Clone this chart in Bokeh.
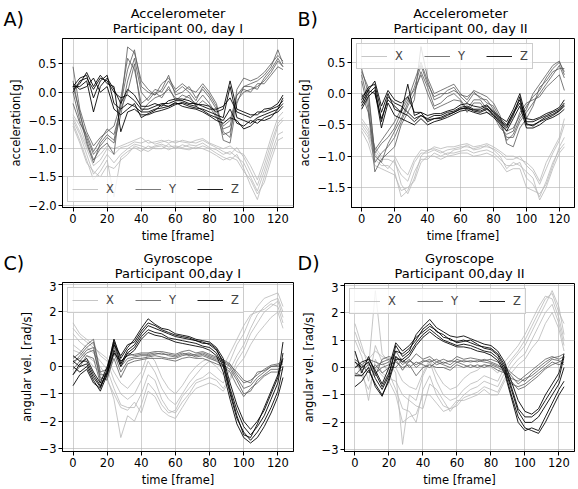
from bokeh.plotting import figure
from bokeh.models import Range1d, FixedTicker, Legend, LegendItem, CustomJSTickFormatter
from bokeh.layouts import column, row
from bokeh.core.properties import value
from bokeh.embed import file_html
from bokeh.resources import INLINE

# ---------------- data ----------------
FRAMES = [0, 4, 8, 12, 16, 20, 24, 28, 32, 36, 40, 44, 48, 52, 56, 60,
          64, 68, 72, 76, 80, 84, 88, 92, 96, 100, 104, 108, 112, 116, 120, 123]
X_TICKS = [0, 20, 40, 60, 80, 100, 120]
ACC_TICKS_A = [-2.0, -1.5, -1.0, -0.5, 0.0, 0.5]
ACC_TICKS_B = [-1.5, -1.0, -0.5, 0.0, 0.5]
GYR_TICKS = [-3, -2, -1, 0, 1, 2, 3]
CHANNELS = ["X", "Y", "Z"]

ACC1_X = [
    [-0.40,-0.60,-0.95,-1.20,-1.10,-0.95,-1.00,-0.95,-0.90,-0.85,-0.80,-0.90,-0.88,-0.85,-0.90,-0.86,-0.88,-0.90,-0.85,-0.82,-0.90,-0.95,-1.00,-0.95,-1.05,-1.10,-1.30,-1.55,-1.20,-0.80,-0.45,-0.35],
    [-0.50,-0.75,-1.10,-1.45,-1.30,-1.10,-1.25,-1.10,-1.00,-0.92,-0.95,-1.00,-0.95,-0.92,-0.97,-0.95,-0.98,-0.93,-0.95,-0.90,-0.98,-1.02,-1.10,-1.05,-1.15,-1.25,-1.50,-1.75,-1.40,-1.00,-0.60,-0.50],
    [-0.55,-0.85,-1.20,-1.55,-1.40,-1.20,-1.85,-1.15,-1.05,-0.98,-1.05,-0.95,-1.00,-1.00,-0.92,-1.00,-0.93,-0.97,-1.00,-0.95,-1.00,-1.08,-1.15,-1.20,-1.10,-1.35,-1.65,-1.90,-1.50,-1.10,-0.75,-0.70],
    [-0.45,-0.70,-1.00,-1.30,-1.20,-1.00,-1.10,-0.98,-0.95,-0.88,-0.90,-0.85,-0.92,-0.88,-0.85,-0.90,-0.85,-0.88,-0.90,-0.85,-0.92,-0.98,-1.05,-1.10,-0.98,-1.15,-1.40,-1.65,-1.30,-0.90,-0.55,-0.45],
    [-0.60,-0.90,-1.25,-1.40,-1.50,-1.30,-1.35,-1.20,-1.10,-0.95,-1.00,-1.05,-0.97,-0.95,-1.02,-0.97,-1.00,-1.02,-0.97,-1.00,-1.05,-1.12,-1.20,-1.15,-1.20,-1.40,-1.55,-1.80,-1.60,-1.20,-0.85,-0.80],
]
ACC1_Y = [
    [0.45,-0.30,-0.70,-0.95,-0.80,-0.70,-0.60,-0.20,0.40,0.75,0.10,0.00,-0.05,0.05,0.30,-0.05,0.00,0.10,-0.10,0.05,-0.10,-0.30,-0.60,-0.50,-0.05,0.10,0.15,0.20,0.30,0.45,0.75,0.50],
    [0.20,-0.40,-0.80,-1.10,-0.95,-0.80,-0.90,-0.40,0.20,0.60,0.00,-0.15,0.00,-0.10,0.10,-0.15,-0.05,-0.10,-0.20,-0.05,-0.20,-0.40,-0.75,-0.70,-0.15,0.00,0.05,0.10,0.20,0.35,0.55,0.45],
    [0.00,-0.50,-0.85,-1.20,-1.00,-0.90,-1.10,-0.10,0.60,0.40,-0.20,-0.10,0.05,0.00,0.20,0.00,0.10,0.00,-0.15,0.10,-0.05,-0.25,-0.85,-0.90,-0.20,0.10,0.10,0.05,0.25,0.40,0.60,0.45],
    [-0.20,-0.55,-0.75,-1.05,-0.85,-0.65,-0.75,-0.30,0.00,0.50,-0.35,-0.20,-0.10,-0.05,0.05,-0.10,-0.15,-0.05,-0.25,-0.15,-0.25,-0.45,-0.65,-0.60,-0.05,0.05,0.00,0.15,0.15,0.30,0.45,0.40],
    [0.10,-0.35,-0.90,-1.25,-0.90,-0.75,-0.85,-0.25,0.80,0.70,0.20,0.05,-0.05,0.15,0.25,0.05,0.15,0.05,0.00,0.15,0.00,-0.20,-0.70,-0.80,0.05,0.25,0.20,0.25,0.35,0.50,0.65,0.55],
]
ACC1_Z = [
    [0.00,0.20,0.25,0.05,0.25,0.20,0.00,-0.10,-0.05,-0.15,-0.30,-0.30,-0.25,-0.20,-0.20,-0.15,-0.15,-0.20,-0.20,-0.25,-0.30,-0.30,-0.25,-0.10,-0.35,-0.40,-0.45,-0.35,-0.35,-0.30,-0.25,-0.15],
    [0.10,0.25,0.30,-0.10,0.20,0.30,-0.20,-0.30,-0.20,-0.25,-0.35,-0.35,-0.30,-0.28,-0.25,-0.20,-0.20,-0.25,-0.28,-0.30,-0.35,-0.40,-0.45,0.10,-0.45,-0.50,-0.55,-0.45,-0.40,-0.35,-0.30,-0.10],
    [0.05,0.15,0.35,0.10,0.30,0.15,0.10,-0.70,-0.35,-0.30,-0.40,-0.40,-0.35,-0.32,-0.28,-0.22,-0.18,-0.22,-0.25,-0.32,-0.40,-0.45,-0.50,-0.30,-0.55,-0.60,-0.50,-0.55,-0.45,-0.40,-0.35,-0.25],
    [0.10,0.10,0.20,-0.35,0.10,0.25,0.05,-0.20,0.05,-0.05,-0.25,-0.25,-0.20,-0.25,-0.15,-0.12,-0.12,-0.15,-0.22,-0.22,-0.25,-0.35,-0.30,0.20,-0.30,-0.35,-0.40,-0.40,-0.30,-0.28,-0.20,-0.05],
    [0.15,0.05,0.10,0.25,0.00,0.10,-0.30,-0.40,-0.30,-0.20,-0.45,-0.38,-0.32,-0.22,-0.25,-0.18,-0.25,-0.28,-0.30,-0.35,-0.42,-0.50,-0.55,-0.45,-0.50,-0.65,-0.60,-0.48,-0.50,-0.45,-0.30,-0.20],
]

ACC2_X = [
    [-0.45,-0.60,-0.90,-1.05,-1.05,-1.10,-1.30,-1.40,-1.10,-0.95,-0.95,-0.90,-0.95,-0.90,-0.88,-0.85,-0.85,-0.88,-0.85,-0.85,-0.88,-0.95,-1.05,-1.05,-1.00,-1.15,-1.25,-1.45,-1.20,-0.95,-0.75,-0.50],
    [-0.55,-0.70,-1.05,-1.15,-1.15,-1.25,-1.65,-1.55,-1.25,-1.05,-1.05,-0.95,-1.00,-0.95,-0.95,-0.92,-0.90,-0.95,-0.92,-0.90,-0.95,-1.05,-1.15,-1.15,-1.10,-1.35,-1.45,-1.65,-1.40,-1.10,-0.90,-0.80],
    [-0.50,-0.65,-0.95,-1.10,-1.20,-1.05,-1.45,-1.60,-1.35,-1.00,-0.90,-0.88,-0.92,-0.98,-0.90,-0.88,-0.82,-0.90,-0.88,-0.82,-0.90,-1.00,-1.20,-1.10,-1.15,-1.25,-1.35,-1.70,-1.50,-1.20,-0.95,-0.85],
    [-0.40,-0.55,-0.85,-1.00,-1.00,-1.00,-1.20,-1.30,-1.05,-0.90,-0.92,-0.85,-0.88,-0.85,-0.85,-0.82,-0.80,-0.85,-0.83,-0.80,-0.85,-0.92,-1.00,-1.00,-1.05,-1.10,-1.20,-1.40,-1.10,-0.90,-0.70,-0.40],
    [-0.60,-0.80,-1.15,-1.20,-1.25,-1.30,-1.55,-1.50,-1.40,-1.10,-1.00,-1.00,-1.05,-1.00,-0.98,-0.95,-0.95,-1.00,-0.98,-0.95,-1.00,-1.10,-1.25,-1.20,-1.20,-1.50,-1.55,-1.60,-1.45,-1.15,-0.85,-0.70],
]
ACC2_Y = [
    [0.40,0.00,-0.95,-0.80,-0.70,-0.55,-0.30,-0.10,0.20,0.50,0.20,-0.10,-0.05,0.05,0.10,-0.05,-0.15,0.00,-0.05,-0.15,-0.20,-0.40,-0.60,-0.55,-0.35,-0.20,-0.05,0.05,0.25,0.40,0.50,0.35],
    [0.30,-0.15,-1.10,-0.95,-0.85,-0.70,-0.45,-0.20,0.00,0.35,0.10,-0.20,-0.15,-0.05,0.00,-0.10,-0.25,-0.10,-0.10,-0.25,-0.30,-0.50,-0.70,-0.70,-0.45,-0.30,-0.15,0.00,0.15,0.30,0.45,0.25],
    [0.20,-0.25,-1.25,-1.05,-0.95,-0.85,-0.50,-0.30,-0.10,0.75,0.25,0.00,0.05,0.10,0.15,0.00,-0.10,0.05,0.00,-0.05,-0.15,-0.35,-0.80,-0.85,-0.55,-0.40,-0.20,0.10,0.20,0.35,0.40,0.40],
    [0.00,-0.30,-0.90,-0.75,-0.60,-0.45,-0.25,-0.05,0.05,0.30,0.00,-0.25,-0.20,-0.15,-0.10,-0.12,-0.30,-0.15,-0.15,-0.30,-0.35,-0.55,-0.65,-0.60,-0.30,-0.15,-0.10,-0.05,0.10,0.20,0.30,0.05],
    [0.35,0.10,-1.00,-1.10,-0.80,-0.60,-0.40,-0.15,0.10,0.45,0.15,-0.05,0.00,0.00,0.05,-0.02,-0.05,0.03,-0.08,-0.10,-0.25,-0.45,-0.75,-0.65,-0.40,-0.25,0.00,0.15,0.30,0.45,0.52,0.30],
]
ACC2_Z = [
    [-0.20,0.00,0.10,-0.45,-0.05,-0.15,-0.20,-0.30,-0.40,-0.35,-0.40,-0.35,-0.35,-0.30,-0.28,-0.22,-0.20,-0.25,-0.25,-0.20,-0.30,-0.40,-0.50,-0.30,-0.10,-0.45,-0.45,-0.40,-0.35,-0.30,-0.25,-0.15],
    [-0.10,0.10,0.15,-0.30,0.00,-0.25,-0.30,0.15,-0.35,-0.30,-0.45,-0.40,-0.40,-0.35,-0.30,-0.25,-0.22,-0.28,-0.30,-0.25,-0.35,-0.45,-0.55,-0.35,-0.05,-0.50,-0.50,-0.45,-0.40,-0.35,-0.28,-0.20],
    [-0.25,-0.05,0.05,-0.55,-0.15,-0.35,-0.40,-0.45,-0.50,-0.40,-0.50,-0.45,-0.42,-0.38,-0.33,-0.28,-0.26,-0.30,-0.33,-0.30,-0.38,-0.48,-0.60,-0.40,-0.20,-0.55,-0.55,-0.50,-0.42,-0.38,-0.32,-0.25],
    [-0.05,0.05,0.20,-0.20,0.05,-0.10,-0.15,-0.05,-0.30,-0.30,-0.35,-0.32,-0.32,-0.28,-0.25,-0.18,-0.16,-0.20,-0.22,-0.18,-0.28,-0.38,-0.45,-0.25,0.00,-0.40,-0.42,-0.38,-0.32,-0.28,-0.22,-0.10],
    [-0.15,0.05,0.00,-0.40,-0.10,-0.20,-0.30,-0.35,-0.45,-0.35,-0.42,-0.40,-0.38,-0.33,-0.30,-0.24,-0.24,-0.26,-0.28,-0.23,-0.33,-0.43,-0.52,-0.32,-0.15,-0.48,-0.52,-0.44,-0.37,-0.33,-0.27,-0.18],
]

GYR1_X = [
    [1.60,1.20,1.00,0.80,0.40,0.20,-0.50,-1.00,-1.20,-1.00,-0.50,0.20,-0.20,-0.80,-1.20,-1.40,-1.00,-0.60,-0.30,0.00,0.20,0.00,-0.30,0.20,0.80,1.20,1.80,2.20,2.50,2.60,2.70,2.20],
    [1.20,0.90,0.70,0.50,0.20,-0.10,-0.80,-1.40,-1.50,-1.50,-1.00,-0.30,-0.50,-1.20,-1.60,-1.70,-1.30,-1.00,-0.60,-0.50,-0.40,-0.50,-0.80,-0.40,0.20,0.60,1.20,1.60,2.00,2.20,2.40,1.80],
    [0.80,0.60,0.40,0.20,0.00,-0.40,-1.20,-2.60,-1.80,-2.00,-1.40,-0.60,-0.90,-1.40,-1.70,-1.60,-1.10,-0.80,-0.50,-0.40,-0.20,-0.40,-0.60,-0.10,0.40,0.80,1.40,1.90,2.20,2.40,2.50,2.00],
    [1.40,1.10,0.90,0.70,0.50,0.30,-0.20,-0.60,-0.80,-0.50,-0.20,0.50,0.20,-0.40,-0.80,-1.00,-0.70,-0.30,0.00,0.20,0.30,0.20,0.00,0.50,1.00,1.50,1.90,2.00,2.10,2.30,2.20,1.60],
    [0.60,0.50,0.30,0.00,-0.20,-0.50,-1.00,-1.50,-1.60,-1.30,-1.70,-0.90,-1.10,-1.60,-1.80,-1.90,-1.50,-1.10,-0.80,-0.70,-0.60,-0.70,-0.90,-0.50,0.00,0.30,0.80,1.20,1.50,1.80,2.00,1.40],
]
GYR1_Y = [
    [0.10,0.40,0.70,0.90,-0.30,-0.30,0.80,0.00,0.30,0.35,0.40,0.40,0.45,0.50,0.40,0.35,0.45,0.50,0.40,0.45,0.35,0.25,0.15,0.00,-0.40,-0.80,-0.70,-0.40,-0.20,0.00,0.00,0.10],
    [-0.10,0.20,0.50,0.60,-0.40,-0.50,0.50,-0.20,0.20,0.30,0.30,0.35,0.40,0.35,0.30,0.30,0.40,0.45,0.35,0.40,0.30,0.20,0.05,-0.10,-0.50,-1.00,-0.90,-0.50,-0.30,-0.10,-0.10,0.00],
    [0.30,0.50,0.80,1.00,-0.20,-0.10,1.00,0.20,0.40,0.45,0.50,0.50,0.55,0.55,0.50,0.45,0.55,0.60,0.50,0.55,0.45,0.35,0.25,0.10,-0.30,-0.60,-0.50,-0.30,-0.10,0.05,0.10,0.20],
    [-0.30,0.00,0.40,0.30,-0.60,-0.40,0.30,-0.40,0.10,0.20,0.25,0.30,0.30,0.30,0.25,0.20,0.30,0.35,0.30,0.30,0.20,0.10,0.00,-0.20,-0.70,-1.10,-0.80,-0.60,-0.35,-0.20,-0.20,-0.10],
    [0.20,0.30,0.60,0.70,-0.50,-0.20,0.70,0.10,0.50,0.40,0.45,0.45,0.50,0.45,0.45,0.40,0.50,0.40,0.45,0.50,0.40,0.30,0.20,0.05,-0.20,-0.50,-0.60,-0.20,-0.15,0.00,0.05,0.15],
]
GYR1_Z = [
    [0.40,0.20,0.20,-0.30,-0.70,-0.20,0.90,0.10,0.60,0.80,1.20,1.50,1.40,1.30,1.20,1.10,1.05,1.00,0.95,0.90,0.80,0.60,0.20,-0.80,-1.60,-2.20,-2.50,-2.20,-1.80,-1.20,-0.60,0.50],
    [0.00,-0.20,0.00,-0.50,-0.90,-0.30,0.60,0.00,0.50,0.70,1.10,1.35,1.25,1.20,1.05,1.00,0.95,0.90,0.85,0.75,0.70,0.50,0.00,-1.00,-1.90,-2.40,-2.70,-2.40,-2.00,-1.50,-0.90,0.00],
    [-0.70,-0.30,-0.10,-0.60,-0.80,-0.10,1.00,0.30,0.70,1.00,1.40,1.75,1.55,1.40,1.35,1.20,1.15,1.10,1.00,0.95,0.90,0.70,0.30,-0.60,-1.40,-2.00,-2.30,-2.00,-1.60,-1.00,-0.40,0.90],
    [0.20,0.00,0.10,-0.40,-0.75,-0.25,0.50,0.20,0.40,0.60,1.00,1.25,1.15,1.10,1.00,0.90,0.85,0.80,0.75,0.70,0.60,0.40,-0.20,-1.20,-2.10,-2.60,-2.80,-2.60,-2.20,-1.70,-1.10,-0.40],
    [-0.30,0.10,0.30,-0.20,-0.60,0.00,0.80,0.40,0.80,0.90,1.30,1.60,1.50,1.35,1.25,1.15,1.10,1.05,0.95,0.85,0.85,0.65,0.10,-0.90,-1.80,-2.50,-2.60,-2.10,-1.50,-0.90,-0.30,0.30],
]

GYR2_X = [
    [1.60,0.80,0.00,2.80,0.50,0.20,-0.20,-2.80,-1.00,-1.20,-0.30,0.20,-0.50,-1.00,-1.20,-1.10,-0.80,-0.60,-0.50,-0.30,-0.40,-0.50,0.00,0.30,0.60,1.00,1.50,2.00,2.50,2.70,2.00,1.60],
    [1.00,0.40,-0.50,0.80,0.20,-0.20,-0.80,-1.50,-1.60,-2.00,-0.80,-0.30,-1.00,-1.40,-1.50,-1.40,-1.10,-1.00,-0.90,-0.70,-0.80,-0.90,-0.40,0.00,0.30,0.50,1.00,1.50,2.00,2.30,1.60,0.80],
    [0.50,0.00,-1.20,0.30,-0.20,-0.40,-0.50,-1.00,-1.20,-1.40,-1.50,-0.60,-0.80,-1.20,-1.60,-1.30,-1.00,-0.80,-0.70,-0.50,-0.60,-0.70,-0.20,0.20,0.50,0.80,1.30,1.80,2.30,2.80,2.20,1.20],
    [1.30,0.60,0.30,0.60,0.40,0.30,0.00,-0.50,-0.70,-0.80,-0.20,0.30,-0.20,-0.60,-0.80,-0.70,-0.40,-0.20,-0.10,0.10,0.00,-0.20,0.20,0.50,0.80,1.20,1.70,2.20,2.60,2.50,1.80,1.00],
    [0.30,-0.30,-0.80,0.00,-0.30,-0.50,-1.00,-2.00,-1.80,-1.70,-1.00,-1.00,-1.30,-1.60,-1.50,-1.20,-1.20,-1.10,-1.00,-0.80,-1.00,-1.00,-0.50,-0.20,0.10,0.30,0.70,1.00,1.60,2.00,1.40,0.60],
]
GYR2_Y = [
    [0.20,-0.10,0.10,0.00,0.20,0.30,0.40,0.10,0.30,0.00,0.20,0.30,0.10,0.20,0.10,0.30,0.20,0.25,0.20,0.30,0.20,0.10,-0.10,-0.40,-0.50,-0.30,-0.10,0.10,0.30,0.40,0.30,0.40],
    [-0.20,-0.30,0.00,-0.20,0.00,0.10,0.20,0.00,0.10,-0.30,0.00,0.10,0.00,0.00,-0.10,0.10,0.00,0.10,0.00,0.10,0.05,-0.10,-0.20,-0.60,-0.70,-0.60,-0.40,-0.20,0.00,0.20,0.10,0.20],
    [0.30,0.10,0.30,0.20,0.10,0.20,0.60,0.20,0.20,0.50,0.30,0.40,0.20,0.30,0.20,0.40,0.30,0.35,0.30,0.25,0.30,0.20,0.05,-0.20,-0.40,-0.50,-0.20,0.00,0.20,0.35,0.40,0.50],
    [0.00,0.10,-0.20,0.10,-0.20,0.00,0.00,0.30,0.00,0.20,0.10,0.00,0.20,0.10,0.00,0.20,0.10,0.00,0.10,0.00,0.10,0.00,-0.15,-0.50,-0.80,-0.70,-0.50,-0.30,-0.05,0.10,0.20,0.30],
    [-0.30,0.00,0.20,-0.30,0.30,0.40,0.30,-0.10,0.25,0.10,0.25,0.20,0.30,0.15,0.25,0.20,0.25,0.20,0.25,0.20,0.15,0.05,0.00,-0.30,-0.60,-0.40,-0.30,-0.10,0.10,0.30,0.25,0.10],
]
GYR2_Z = [
    [0.60,-0.20,0.40,-0.20,-0.70,-0.20,0.60,0.50,0.70,1.00,1.40,1.60,1.30,1.20,1.00,0.95,1.00,0.90,0.80,0.75,0.70,0.50,0.10,-0.70,-1.50,-1.80,-1.80,-1.60,-1.20,-0.80,-0.40,0.40],
    [-0.70,-0.50,-0.10,-0.60,-1.00,-0.50,0.30,0.30,0.50,0.90,1.20,1.40,1.20,1.00,0.90,0.80,0.85,0.80,0.70,0.60,0.55,0.35,-0.10,-1.00,-1.80,-2.20,-2.30,-2.40,-2.00,-1.50,-1.00,-0.70],
    [0.20,0.00,0.20,-0.40,-0.80,-0.30,0.80,0.40,0.60,1.20,1.50,1.75,1.45,1.30,1.15,1.10,1.15,1.05,0.95,0.85,0.80,0.60,0.20,-0.50,-1.20,-1.60,-1.70,-1.50,-1.00,-0.60,-0.20,0.50],
    [-0.30,-0.30,0.00,-0.70,-1.05,-0.40,0.40,0.20,0.40,0.80,1.10,1.30,1.10,0.95,0.85,0.75,0.75,0.70,0.60,0.55,0.45,0.25,-0.20,-1.10,-2.00,-2.30,-2.20,-2.30,-1.80,-1.30,-0.80,-0.50],
    [0.00,0.20,0.30,-0.10,-0.60,0.00,0.90,0.60,0.80,1.10,1.30,1.50,1.35,1.10,1.05,0.90,0.95,1.00,0.85,0.70,0.65,0.45,0.00,-0.80,-1.60,-2.00,-2.00,-1.80,-1.40,-1.00,-0.60,0.00],
]

# ---------------- styling ----------------
FONT = "DejaVu Sans"
COLORS = {"X": "#b8b8b8", "Y": "#5a5a5a", "Z": "#000000"}
ALPHAS = {"X": 0.8, "Y": 0.8, "Z": 0.88}
TICK_FS = "11.5px"
LABEL_FS = "11.5px"
TITLE_FS = "13px"
LETTER_FS = "19px"


def header(w, hh, bl, fw, letter, t1, t2, y1, y2, yl):
    h = figure(width=w, height=hh, x_range=Range1d(0, w), y_range=Range1d(hh, 0),
               output_backend="svg", toolbar_location=None,
               x_axis_type=None, y_axis_type=None, min_border=0, frame_align=False)
    h.outline_line_color = None
    h.background_fill_color = "white"
    h.border_fill_color = "white"
    h.text(x=[bl + fw / 2, bl + fw / 2], y=[y1, y2], text=[t1, t2],
           text_font=value(FONT), text_font_size=value(TITLE_FS),
           text_align="center", text_baseline="alphabetic", text_color="black")
    h.text(x=[3], y=[yl], text=[letter], text_font=value(FONT),
           text_font_size=value(LETTER_FS), text_align="left",
           text_baseline="alphabetic", text_color="black")
    return h


def panel(w, hh, h, bl, br, bt, bb, yr, yticks, decimals, ylabel, letter, t1, t2,
          ty1, ty2, tyl, data, legend_loc):
    p = figure(width=w, height=h, x_range=Range1d(-6.15, 129.15), y_range=Range1d(*yr),
               output_backend="svg", toolbar_location=None,
               min_border_left=bl, min_border_right=br,
               min_border_top=bt, min_border_bottom=bb, frame_align=False)
    p.background_fill_color = "white"
    p.border_fill_color = "white"
    p.outline_line_color = "black"
    p.outline_line_width = 1
    p.outline_line_alpha = 1

    p.xaxis.ticker = FixedTicker(ticks=X_TICKS)
    p.yaxis.ticker = FixedTicker(ticks=yticks)
    p.yaxis.formatter = CustomJSTickFormatter(
        code="return tick.toFixed(%d).replace('-', '\u2212');" % decimals)
    p.xaxis.axis_label = "time [frame]"
    p.yaxis.axis_label = ylabel
    for ax in (p.xaxis, p.yaxis):
        ax.major_label_text_font = FONT
        ax.major_label_text_font_size = TICK_FS
        ax.major_label_text_color = "black"
        ax.axis_label_text_font = FONT
        ax.axis_label_text_font_size = LABEL_FS
        ax.axis_label_text_font_style = "normal"
        ax.axis_label_text_color = "black"
        ax.axis_line_color = "black"
        ax.major_tick_line_color = "black"
        ax.major_tick_out = 4
        ax.major_tick_in = 0
        ax.minor_tick_line_color = None
        ax.major_label_standoff = 2
        ax.axis_label_standoff = 3
    p.grid.grid_line_color = "#b0b0b0"
    p.grid.grid_line_alpha = 0.6
    p.grid.grid_line_width = 1

    first = {}
    for ch, traces in zip(CHANNELS, data):
        for tr in traces:
            r = p.line(FRAMES, tr, line_color=COLORS[ch], line_alpha=ALPHAS[ch],
                       line_width=1)
            first.setdefault(ch, r)

    legend = Legend(items=[LegendItem(label=ch, renderers=[first[ch]]) for ch in CHANNELS],
                    orientation="horizontal", location=legend_loc, margin=5,
                    glyph_width=26, glyph_height=16, label_standoff=8, spacing=21,
                    padding=4, label_width=7, label_height=16,
                    label_text_font=FONT, label_text_font_size="11.5px",
                    border_line_color="#cccccc", border_line_alpha=1,
                    background_fill_color="white", background_fill_alpha=0.8)
    p.add_layout(legend)

    fw = w - bl - br
    hdr = header(w, hh, bl, fw, letter, t1, t2, ty1, ty2, tyl)
    return column(hdr, p)


pa = panel(294, 37, 208, 62, 1, 1, 33, (-2.04, 0.95), ACC_TICKS_A, 1, "acceleration[g]",
           "A)", "Accelerometer", "Participant 00, day I", 13, 28, 18,
           [ACC1_X, ACC1_Y, ACC1_Z], "bottom_left")
pb = panel(284, 37, 208, 52, 4, 1, 31, (-1.82, 0.88), ACC_TICKS_B, 1, "acceleration[g]",
           "B)", "Accelerometer", "Participant 00, day II", 13, 28, 18,
           [ACC2_X, ACC2_Y, ACC2_Z], "top_left")
pc = panel(294, 36, 208, 62, 1, 1, 32, (-3.11, 3.08), GYR_TICKS, 0, "angular vel. [rad/s]",
           "C)", "Gyroscope", "Participant 00,day I", 13, 28, 17,
           [GYR1_X, GYR1_Y, GYR1_Z], "top_left")
pd = panel(284, 37, 207, 50, 4, 1, 34, (-3.06, 3.06), GYR_TICKS, 0, "angular vel. [rad/s]",
           "D)", "Gyroscope", "Participant 00,day II", 13, 28, 17,
           [GYR2_X, GYR2_Y, GYR2_Z], "top_left")

layout = column(row(pa, pb), row(pc, pd))
open("out.html", "w").write(file_html(layout, INLINE))
